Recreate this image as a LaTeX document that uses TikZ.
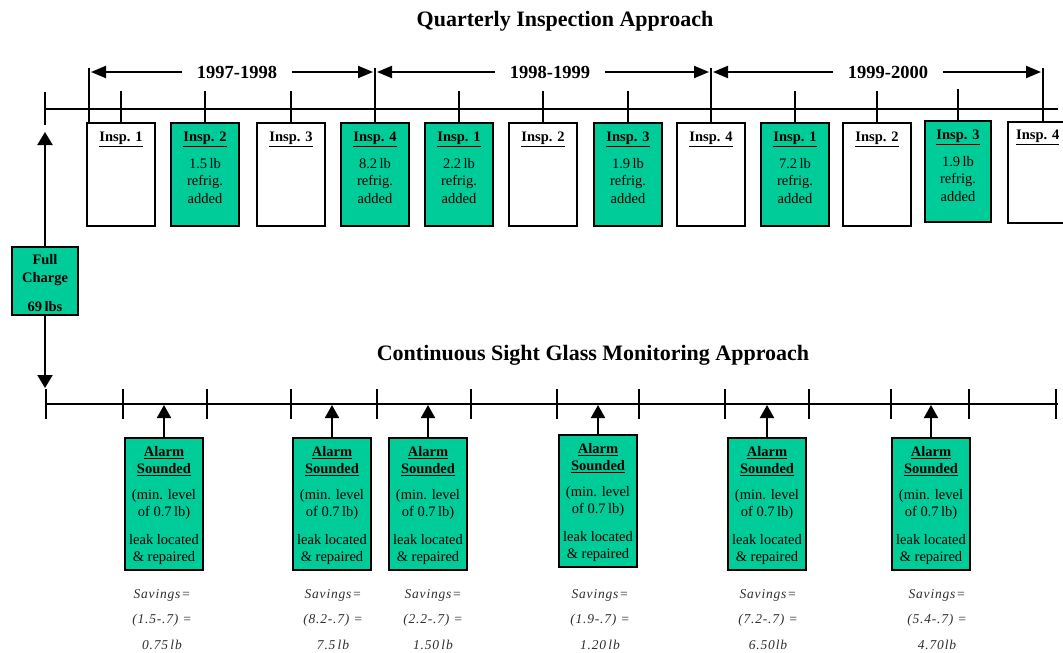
\documentclass[tikz,border=0pt]{standalone}
\usepackage{fontspec}
\setmainfont{Liberation Serif}
\usetikzlibrary{arrows.meta}
\definecolor{tgreen}{RGB}{0,204,153}
\definecolor{savgray}{RGB}{45,45,45}
\newcommand\inspbox[5]{% name, x center, y top, fill, header
  \node[ibox, fill=#4] (#1) at (#2,#3) {};
  \node[itext, anchor=north] (#1t) at ([yshift=-10pt]#1.north) {\textbf{\underline{#5}}};
}
\newcommand\inspboxb[6]{% name, x center, y top, fill, header, lb
  \node[ibox, fill=#4] (#1) at (#2,#3) {};
  \node[itext, anchor=north] (#1t) at ([yshift=-10pt]#1.north)
    {\textbf{\underline{#5}}\\[9pt]#6\\refrig.\\added};
}
\newcommand\alarmbox[3]{% name, x center, y top
  \node[abox] (#1) at (#2,#3) {};
  \node[itext, anchor=north] (#1t) at ([yshift=-9pt]#1.north)
    {\textbf{\underline{Alarm}}\\\textbf{\underline{Sounded}}\\[8pt](min. level\\of 0.7\,lb)\\[10pt]leak located\\\&{} repaired};
  \draw[aarr] (#1.north) -- (#1.north |- blt);
}
\begin{document}
\begin{tikzpicture}[x=1pt,y=-1pt,
  ln/.style={line width=2pt},
  ibox/.style={draw, line width=2pt, minimum width=68pt, minimum height=103pt, anchor=north, inner sep=0pt},
  abox/.style={draw, line width=2pt, fill=tgreen, minimum width=78pt, minimum height=132pt, anchor=north, inner sep=0pt},
  fcbox/.style={draw, line width=2pt, fill=tgreen, minimum width=66pt, minimum height=68pt, inner sep=0pt},
  itext/.style={align=center, inner sep=0pt, font=\fontsize{14.5}{17.5}\selectfont},
  ttl/.style={inner sep=0pt, font=\fontsize{22}{24}\selectfont\bfseries},
  ylab/.style={inner xsep=15pt, inner ysep=0pt, font=\fontsize{18.5}{20}\selectfont\bfseries},
  yarr/.style={ln, -{Triangle[length=15pt,width=12pt]}, shorten >=2pt},
  varr/.style={ln, -{Triangle[length=13pt,width=15pt]}},
  aarr/.style={ln, -{Triangle[length=13pt,width=14pt]}},
  sav/.style={align=center, inner sep=0pt, text=savgray,
    font=\fontsize{13.5}{25.5}\selectfont\itshape\addfontfeature{LetterSpace=6}},
]
\useasboundingbox (0,0) rectangle (1063,653);

% titles
\node[ttl] (title1) at (565,21) {Quarterly Inspection Approach};
\node[ttl] (title2) at (593,355) {Continuous Sight Glass Monitoring Approach};

% top timeline
\coordinate (tl0) at (45,109);
\coordinate (tl1) at (1058,109);
\draw[ln] (tl0) -- (tl1);
\draw[ln] (45,92) -- (45,125);

% inspection boxes
\inspbox{b1}{121}{122}{white}{Insp. 1}
\inspboxb{b2}{205}{122}{tgreen}{Insp. 2}{1.5\,lb}
\inspbox{b3}{291}{122}{white}{Insp. 3}
\inspboxb{b4}{375}{122}{tgreen}{Insp. 4}{8.2\,lb}
\inspboxb{b5}{459}{122}{tgreen}{Insp. 1}{2.2\,lb}
\inspbox{b6}{543}{122}{white}{Insp. 2}
\inspboxb{b7}{628}{122}{tgreen}{Insp. 3}{1.9\,lb}
\inspbox{b8}{711}{122}{white}{Insp. 4}
\inspboxb{b9}{795}{122}{tgreen}{Insp. 1}{7.2\,lb}
\inspbox{b10}{877}{122}{white}{Insp. 2}
\node[ibox, fill=tgreen, minimum width=66pt, minimum height=101pt] (b11) at (958,120) {};
\node[itext, anchor=north] (b11t) at ([yshift=-10pt]b11.north) {\textbf{\underline{Insp. 3}}\\[9pt]1.9\,lb\\refrig.\\added};
\node[ibox, minimum width=70pt, minimum height=101pt] (b12) at (1043,121) {};
\node[itext, anchor=north west] (b12t) at ([xshift=9pt,yshift=-9pt]b12.north west) {\textbf{\underline{Insp. 4}}};

% ticks from line to boxes
\foreach \b in {b1,b2,b3,b5,b6,b7,b9,b10,b11}
  \draw[ln] (\b.north) ++(0,-31) -- (\b.north);

% year brackets
\coordinate (v0) at (89,68);
\coordinate (v1) at (375,68);
\coordinate (v2) at (711,68);
\coordinate (v3) at (1043,68);
\draw[ln] (v0) -- (v0 |- b1.north);
\draw[ln] (v1) -- (b4.north);
\draw[ln] (v2) -- (b8.north);
\draw[ln] (v3) -- (b12.north);

\node[ylab] (y1) at (237,72) {1997-1998};
\node[ylab] (y2) at (550,72) {1998-1999};
\node[ylab] (y3) at (888,72) {1999-2000};
\draw[yarr] (y1.west) -- (v0 |- y1);
\draw[yarr] (y1.east) -- (v1 |- y1);
\draw[yarr] (y2.west) -- (v1 |- y2);
\draw[yarr] (y2.east) -- (v2 |- y2);
\draw[yarr] (y3.west) -- (v2 |- y3);
\draw[yarr] (y3.east) -- (v3 |- y3);

% full charge
\node[fcbox] (fc) at (45,281) {};
\node[itext, anchor=north, font=\fontsize{14.5}{18}\selectfont\bfseries] (fct) at ([yshift=-8pt]fc.north) {Full\\Charge\\[11pt]69\,lbs};
\coordinate (upt) at (45,132);
\coordinate (dnt) at (45,388);
\draw[varr] (fc.north) -- (upt);
\draw[varr] (fc.south) -- (dnt);

% bottom timeline
\coordinate (bl0) at (46,404);
\coordinate (bl1) at (1058,404);
\coordinate (blt) at (0,405);
\draw[ln] (bl0) -- (bl1);
\foreach \x in {46,123,207,291,377,471,557,639,725,809,891,969,1056}
  \draw[ln] (\x,389) -- (\x,419);

% alarm boxes
\alarmbox{a1}{164}{437}
\alarmbox{a2}{332}{437}
\alarmbox{a3}{428}{437}
\alarmbox{a4}{598}{434}
\alarmbox{a5}{767}{437}
\alarmbox{a6}{931}{437}

% savings
\node[sav, anchor=north] (s1) at (162,589) {Savings=\\(1.5-.7) =\\0.75\,lb};
\node[sav, anchor=north] (s2) at (333,589) {Savings=\\(8.2-.7) =\\7.5\,lb};
\node[sav, anchor=north] (s3) at (433,589) {Savings=\\(2.2-.7) =\\1.50\,lb};
\node[sav, anchor=north] (s4) at (600,589) {Savings=\\(1.9-.7) =\\1.20\,lb};
\node[sav, anchor=north] (s5) at (768,589) {Savings=\\(7.2-.7) =\\6.50lb};
\node[sav, anchor=north] (s6) at (937,589) {Savings=\\(5.4-.7) =\\4.70lb};
\end{tikzpicture}
\end{document}
